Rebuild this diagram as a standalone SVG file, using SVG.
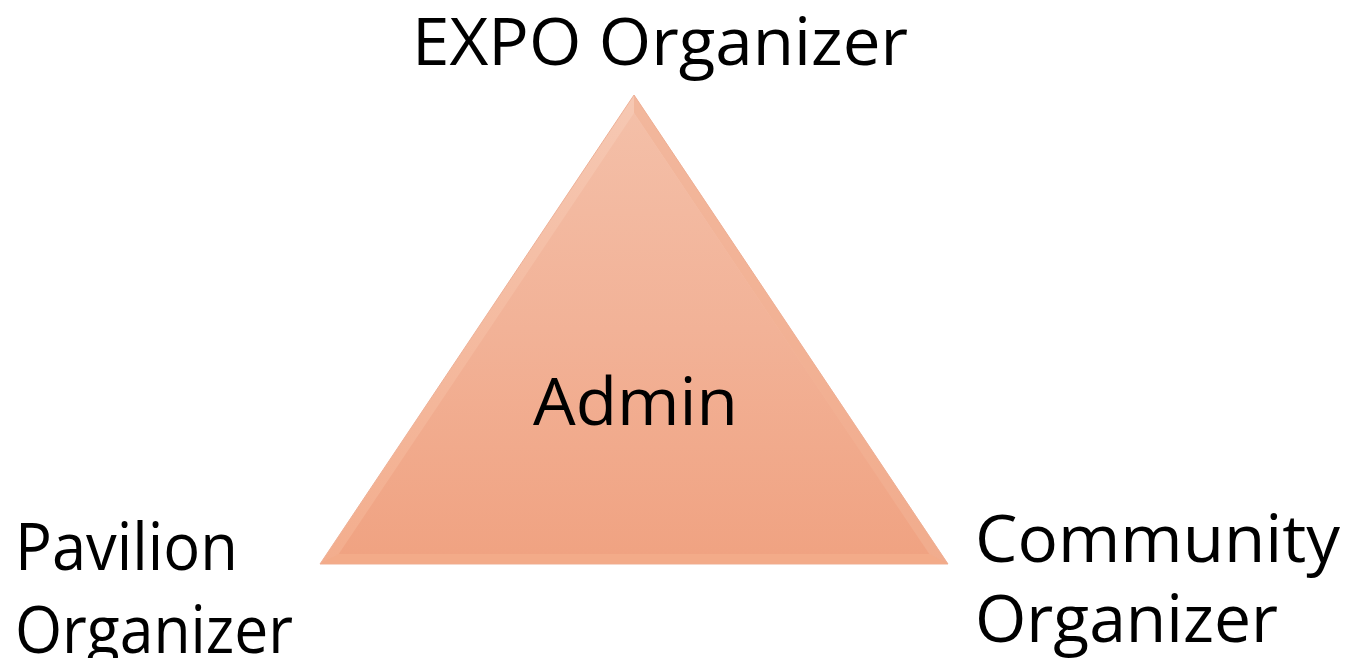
<svg xmlns="http://www.w3.org/2000/svg" width="1350" height="658" viewBox="0 0 1350 658">
  <style>
    .lbl { font-family: "Open Sans", "Liberation Sans", sans-serif; font-size: 66px; fill: #000000; }
  </style>
  <defs>
    <linearGradient id="faceFill" x1="0" y1="95" x2="0" y2="564" gradientUnits="userSpaceOnUse">
      <stop offset="0" stop-color="#f4c0a9"/>
      <stop offset="0.5" stop-color="#f2b297"/>
      <stop offset="1" stop-color="#f0a281"/>
    </linearGradient>
    <linearGradient id="bevelFill" x1="0" y1="95" x2="0" y2="564" gradientUnits="userSpaceOnUse">
      <stop offset="0" stop-color="#f6c8b3"/>
      <stop offset="1" stop-color="#f3ad8d"/>
    </linearGradient>
  </defs>

  <rect width="1350" height="658" fill="#ffffff"/>

  <!-- central pyramid -->
  <g id="admin">
    <polygon points="634,95 320,564 948,564" fill="url(#bevelFill)" stroke="#eeb096" stroke-width="1"/>
    <!-- darker facet on the lower right bevel -->
    <polygon points="634,95 948,564 929.3,554 634,113" fill="#f0ab8d" opacity="0.6"/>
    <polygon points="320,564 948,564 929.3,554 338.7,554" fill="#f2a987" opacity="0.7"/>
    <polygon points="634,113 338.7,554 929.3,554" fill="url(#faceFill)"/>
    <text class="lbl" x="533" y="425" textLength="205" lengthAdjust="spacingAndGlyphs">Admin</text>
  </g>

  <g id="expo-organizer">
    <text class="lbl" x="412" y="65" textLength="496" lengthAdjust="spacingAndGlyphs">EXPO Organizer</text>
  </g>

  <g id="pavilion-organizer">
    <text class="lbl" x="15" y="570" textLength="223" lengthAdjust="spacingAndGlyphs">Pavilion</text>
    <text class="lbl" x="15" y="653" textLength="278" lengthAdjust="spacingAndGlyphs">Organizer</text>
  </g>

  <g id="community-organizer">
    <text class="lbl" x="975" y="562" textLength="365" lengthAdjust="spacingAndGlyphs">Community</text>
    <text class="lbl" x="975" y="642" textLength="303" lengthAdjust="spacingAndGlyphs">Organizer</text>
  </g>

  <!-- no connectors in this figure -->
  <g id="connectors"/>
</svg>
